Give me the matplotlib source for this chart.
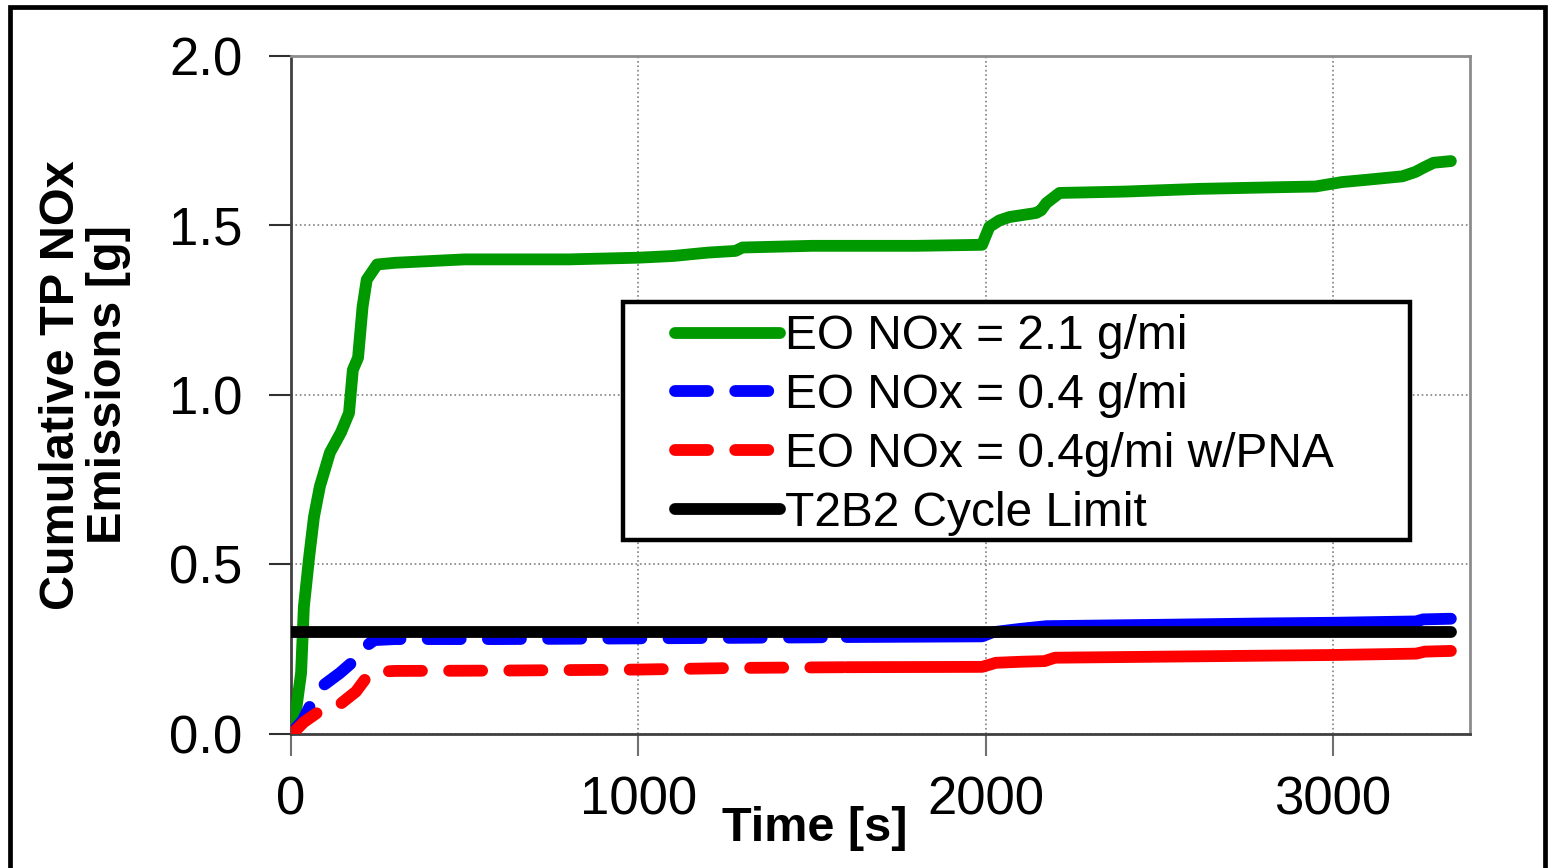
import matplotlib
matplotlib.use("Agg")
import matplotlib.pyplot as plt
from matplotlib.patches import Rectangle

plt.rcParams['font.family'] = ['Liberation Sans', 'DejaVu Sans']

# cumulative tailpipe NOx
time_hi = [0, 8, 29, 37, 52, 66, 83, 112, 144, 167, 178, 193, 206, 218, 248, 300,
           500, 800, 1000, 1100, 1200, 1280, 1300, 1500, 1800, 1990, 2011, 2040,
           2069, 2146, 2160, 2175, 2213, 2400, 2615, 2800, 2950, 3026, 3100, 3200,
           3238, 3260, 3290, 3340]
nox_hi = [0.0, 0.02, 0.18, 0.375, 0.52, 0.64, 0.73, 0.83, 0.89, 0.947, 1.074, 1.11,
          1.26, 1.34, 1.385, 1.39, 1.40, 1.40, 1.405, 1.41, 1.42, 1.425, 1.435, 1.44,
          1.44, 1.443, 1.496, 1.515, 1.525, 1.537, 1.545, 1.566, 1.596, 1.60, 1.608,
          1.612, 1.615, 1.628, 1.635, 1.645, 1.658, 1.67, 1.685, 1.69]

time_lo = [0, 8, 34, 63, 95, 141, 178, 213, 240, 300, 600, 1000, 1500, 1600, 1990,
           2020, 2100, 2175, 2500, 2800, 3000, 3240, 3260, 3340]
nox_lo = [0.0, 0.01, 0.04, 0.1, 0.145, 0.18, 0.213, 0.257, 0.277, 0.28, 0.28, 0.282,
          0.285, 0.286, 0.288, 0.30, 0.31, 0.318, 0.322, 0.326, 0.328, 0.332, 0.338, 0.34]

time_pna = [0, 8, 37, 86, 144, 187, 216, 240, 300, 600, 1000, 1300, 1600, 1990, 2030,
            2100, 2170, 2200, 2500, 3000, 3240, 3265, 3340]
nox_pna = [0.0, 0.005, 0.035, 0.07, 0.09, 0.125, 0.165, 0.183, 0.186, 0.187, 0.19,
           0.195, 0.197, 0.198, 0.21, 0.213, 0.215, 0.225, 0.228, 0.233, 0.237, 0.243, 0.245]

time_limit = [0, 3340]
nox_limit = [0.3, 0.3]

labels = ['EO NOx = 2.1 g/mi', 'EO NOx = 0.4 g/mi', 'EO NOx = 0.4g/mi w/PNA',
          'T2B2 Cycle Limit']
xticks = [0, 1000, 2000, 3000]
yticks = [0.0, 0.5, 1.0, 1.5, 2.0]

# dashes look solid where the logged points get dense
dash_until = 1600
LW = 8.5
DASH = (2.8, 2.3)


def split(t, v, cut):
    i = next(k for k, x in enumerate(t) if x >= cut)
    return t[:i + 1], v[:i + 1], t[i:], v[i:]


fig = plt.figure(figsize=(15.48, 8.68), dpi=100)
ax = fig.add_axes([0.188, 0.1544, 0.7616, 0.7811])

ax.plot(time_hi, nox_hi, color='#009900', lw=LW, solid_capstyle='round',
        solid_joinstyle='round', label=labels[0], zorder=3)

for t, v, col, lab in [(time_lo, nox_lo, '#0000ff', labels[1]),
                       (time_pna, nox_pna, '#ff0000', labels[2])]:
    t1, v1, t2, v2 = split(t, v, dash_until)
    ax.plot(t1, v1, color=col, lw=LW, dashes=DASH, dash_capstyle='round',
            dash_joinstyle='round', label=lab, zorder=3)
    ax.plot(t2, v2, color=col, lw=LW, solid_capstyle='round',
            solid_joinstyle='round', zorder=3)

ax.plot(time_limit, nox_limit, color='black', lw=LW, solid_capstyle='round',
        label=labels[3], zorder=3)

ax.set_xlim(0, 3395)
ax.set_ylim(0, 2.0)
ax.set_xticks(xticks)
ax.set_yticks(yticks)
ax.set_yticklabels(['%.1f' % y for y in yticks])
ax.grid(True, color='#808080', linestyle=':', linewidth=1.2, zorder=0)
ax.set_axisbelow(True)

for side in ['top', 'right']:
    ax.spines[side].set_color('#8c8c8c')
    ax.spines[side].set_linewidth(2)
for side in ['left', 'bottom']:
    ax.spines[side].set_color('#404040')
    ax.spines[side].set_linewidth(2)

ax.tick_params(axis='y', direction='out', length=16, width=1.5, color='#303030',
               labelsize=38, pad=19)
ax.tick_params(axis='x', direction='out', length=16, width=1.5, color='#707070',
               labelsize=38, pad=14)

ax.set_xlabel('Time [s]', fontsize=35, fontweight='bold')
ax.xaxis.set_label_coords(0.444, -0.139)
ax.xaxis.label.set_va('center')
ax.set_ylabel('Cumulative TP NOx\nEmissions [g]', fontsize=35, fontweight='bold',
              linespacing=1.05)
ax.yaxis.set_label_coords(-0.175, 0.515)
ax.yaxis.label.set_va('center')

# legend box drawn by hand: the frame is wider on the left than matplotlib pads
ax.add_patch(Rectangle((0.2816, 0.286), 0.6676, 0.351, transform=ax.transAxes,
                       facecolor='white', edgecolor='black', lw=3.2, zorder=4))
leg = ax.legend(loc='upper left', bbox_to_anchor=(0.3257, 0.619), frameon=False,
                borderpad=0, borderaxespad=0, handlelength=2.2, handletextpad=0.1,
                labelspacing=0.29, prop={'size': 34.5})
leg.set_zorder(5)

# outer frame around the whole picture
fig.add_artist(Rectangle((10 / 1548, -0.05), 1535 / 1548, 1 - 7 / 868 + 0.05,
                         transform=fig.transFigure, fill=False, edgecolor='black',
                         lw=3.4, clip_on=False))

fig.savefig('out.png', dpi=100)
